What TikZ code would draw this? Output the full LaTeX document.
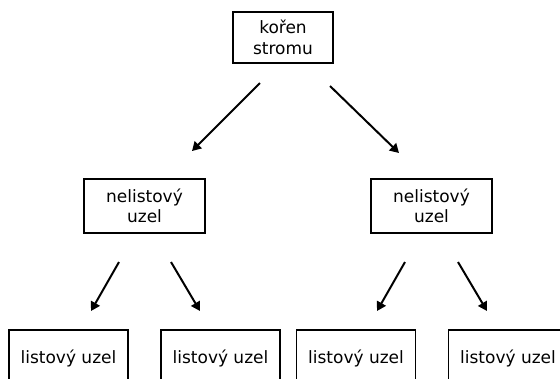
\documentclass[tikz,border=0pt]{standalone}
\usepackage{fontspec}
\setmainfont{DejaVu Sans}
\usetikzlibrary{arrows.meta,calc}
\tikzset{
  uzel/.style={draw, line width=1.6pt, inner sep=0pt, align=center,
    font=\fontsize{14.5}{17.5}\selectfont},
  hrana/.style={line width=1.7pt, -{Triangle[length=0.27cm,width=0.3cm]}}
}

\begin{document}
\begin{tikzpicture}[x=0.03cm,y=-0.03cm]
  \clip (0,0) rectangle (560,378);
  \useasboundingbox (0,0) rectangle (560,378);
  % root and the two inner nodes
  \node[uzel, minimum width=3cm, minimum height=1.53cm] (koren) at (283,37.5) {kořen\\stromu};
  \node[uzel, minimum width=3.63cm, minimum height=1.62cm] (vnitrL) at (144.5,206) {nelistový\\uzel};
  \node[uzel, minimum width=3.63cm, minimum height=1.62cm] (vnitrR) at (431.5,206) {nelistový\\uzel};
  % leaves (cut off at the bottom)
  \node[uzel, minimum width=3.57cm, minimum height=1.68cm] (list1) at (68.5,358) {listový uzel};
  \node[uzel, minimum width=3.57cm, minimum height=1.68cm] (list2) at (220.5,358) {listový uzel};
  \node[uzel, minimum width=3.57cm, minimum height=1.68cm] (list3) at (356,358) {listový uzel};
  \node[uzel, minimum width=3.57cm, minimum height=1.68cm] (list4) at (508,358) {listový uzel};
  % arrow ends, the arrows do not touch the boxes
  \coordinate (kL) at (260,83);  \coordinate (vL) at (192,151);
  \coordinate (kR) at (330,86);  \coordinate (vR) at (399,153);
  \coordinate (a1) at (119,262); \coordinate (b1) at (91,311);
  \coordinate (a2) at (171,262); \coordinate (b2) at (200,311);
  \coordinate (a3) at (405,262); \coordinate (b3) at (377,311);
  \coordinate (a4) at (458,262); \coordinate (b4) at (487,311);
  \draw[hrana] (kL) -- (vL);
  \draw[hrana] (kR) -- (vR);
  \draw[hrana] (a1) -- (b1);
  \draw[hrana] (a2) -- (b2);
  \draw[hrana] (a3) -- (b3);
  \draw[hrana] (a4) -- (b4);
\end{tikzpicture}
\end{document}
